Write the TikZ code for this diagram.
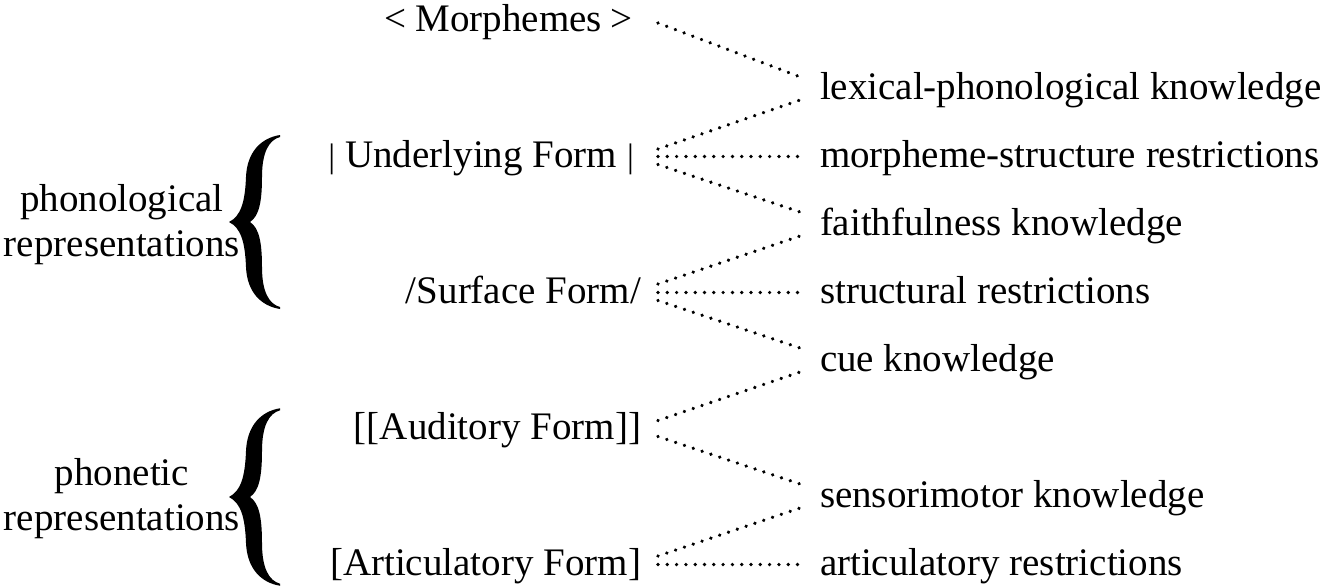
\documentclass[tikz,border=0pt]{standalone}
\usepackage{fontspec}
\setmainfont{Liberation Serif}
\usetikzlibrary{calc,decorations.markings}
\newcommand\smallbarsym{{\fontsize{34}{34}\selectfont|}}
\tikzset{
  dotline/.style={decoration={markings,
      mark=between positions 0 and 1 step 9.3pt with {\fill[black] (0,0) circle (1.85pt);}},
    decorate}
}
\begin{document}
\begin{tikzpicture}[x=1pt,y=-1pt,
  every node/.style={font=\fontsize{39}{45}\selectfont, inner sep=0pt, outer sep=0pt},
  form/.style={anchor=east, text height=27pt, text depth=8.5pt},
  know/.style={anchor=west, text height=27pt, text depth=8.5pt},
  grp/.style={anchor=east, align=center},
  bigbrace/.pic={\fill[black] (51,-87) .. controls (32,-84) and (18,-70) .. (17,-45)
      .. controls (16,-20) and (12,-6) .. (0,0)
      .. controls (12,6) and (16,20) .. (17,45)
      .. controls (18,70) and (32,84) .. (51,87)
      -- (51,85) .. controls (40,82) and (33,70) .. (33,45)
      .. controls (33,20) and (30,6) .. (21,0)
      .. controls (30,-6) and (33,-20) .. (33,-45)
      .. controls (33,-70) and (40,-82) .. (51,-85) -- cycle;}
]
\useasboundingbox (0,0) rectangle (1325,587);
% left column
\node[form] (mor) at (633,22) {<\hspace{9pt}Morphemes\hspace{9pt}>};
\node[form] (und) at (634,158) {\smallbarsym\hspace{10pt}Underlying Form\hspace{10pt}\smallbarsym};
\node[form] (sur) at (641,294) {/Surface Form/};
\node[form] (aud) at (641,430) {[[Auditory Form]]};
\node[form] (art) at (641,566) {[Articulatory Form]};
% right column
\node[know] (lex) at (820,90) {lexical-phonological knowledge};
\node[know] (msr) at (820,158) {morpheme-structure restrictions};
\node[know] (fai) at (820,226) {faithfulness knowledge};
\node[know] (str) at (820,294) {structural restrictions};
\node[know] (cue) at (820,362) {cue knowledge};
\node[know] (sen) at (820,498) {sensorimotor knowledge};
\node[know] (arr) at (820,566) {articulatory restrictions};
% group labels and braces
\node[grp] (pho) at (240,225) {phonological\\representations};
\node[grp] (phe) at (240,499) {phonetic\\representations};
\pic at (229,222) {bigbrace};
\pic[yscale=1.02] at (229,497) {bigbrace};
% connectors
\coordinate (ls) at (658,0);
\coordinate (re) at (803,0);
\path[dotline] ($(mor.east -| ls)+(0,1)$) -- ($(lex.west -| re)+(0,-12)$);
\path[dotline] ($(und.east -| ls)+(0,-9)$) -- ($(lex.west -| re)+(0,9)$);
\path[dotline] ($(und.east -| ls)+(0,-1.5)$) -- ($(msr.west -| re)+(0,-1.5)$);
\path[dotline] ($(und.east -| ls)+(0,6.5)$) -- ($(fai.west -| re)+(0,-13)$);
\path[dotline] ($(sur.east -| ls)+(0,-10)$) -- ($(fai.west -| re)+(0,9)$);
\path[dotline] ($(sur.east -| ls)+(0,-1.5)$) -- ($(str.west -| re)+(0,-1.5)$);
\path[dotline] ($(sur.east -| ls)+(0,6.5)$) -- ($(cue.west -| re)+(0,-13)$);
\path[dotline] ($(aud.east -| ls)+(0,-9.5)$) -- ($(cue.west -| re)+(0,9)$);
\path[dotline] ($(aud.east -| ls)+(0,6.5)$) -- ($(sen.west -| re)+(0,-13)$);
\path[dotline] ($(art.east -| ls)+(0,-10)$) -- ($(sen.west -| re)+(0,9)$);
\path[dotline] ($(art.east -| ls)+(0,-1.5)$) -- ($(arr.west -| re)+(0,-1.5)$);
\end{tikzpicture}
\end{document}
